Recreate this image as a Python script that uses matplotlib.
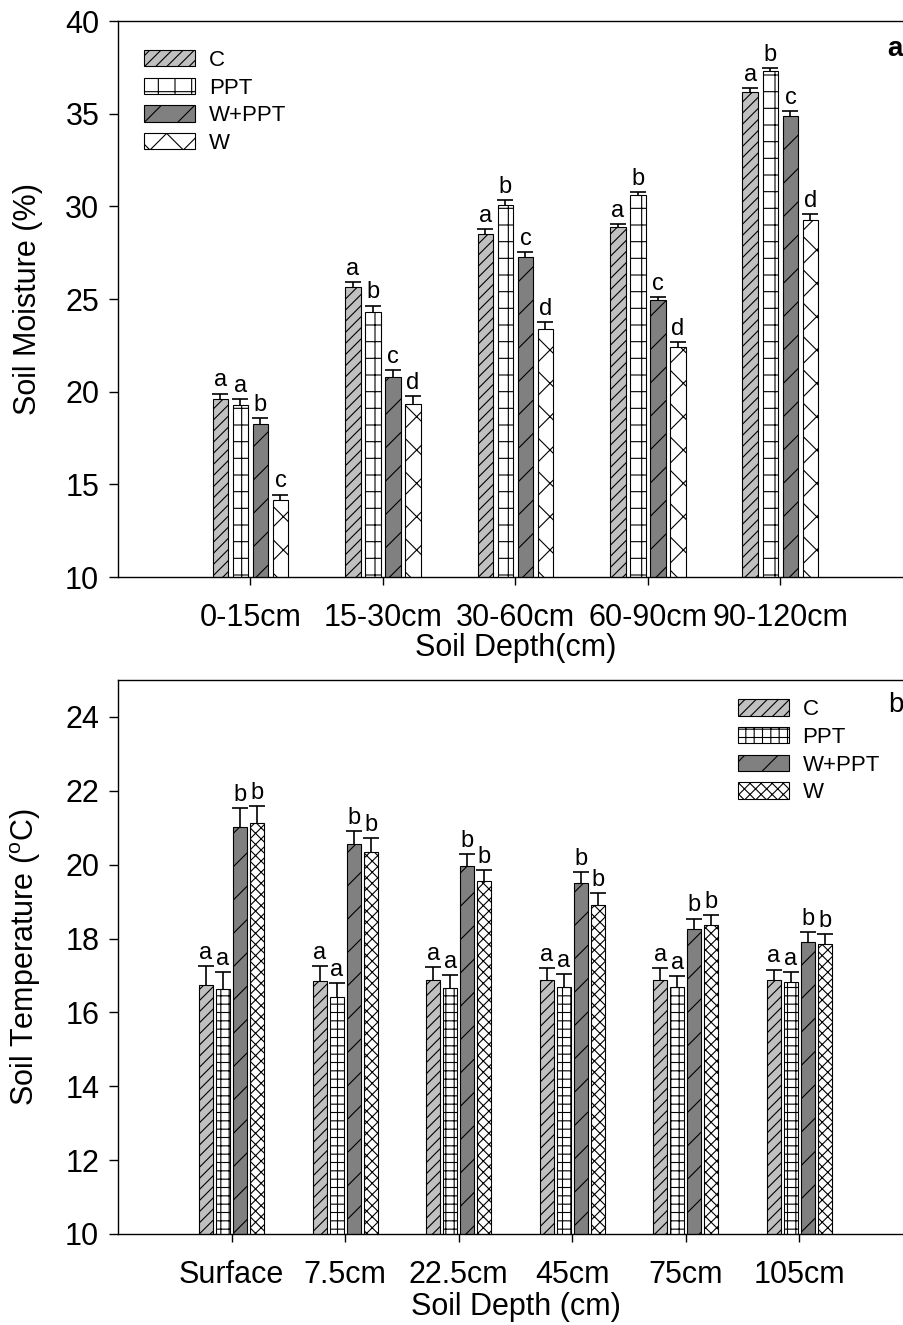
import numpy as np
import matplotlib.pyplot as plt

plt.rcParams['font.family'] = ['Liberation Sans', 'DejaVu Sans']
plt.rcParams['mathtext.fontset'] = 'custom'
plt.rcParams['mathtext.rm'] = 'Liberation Sans'
plt.rcParams['hatch.color'] = 'black'
plt.rcParams['hatch.linewidth'] = 0.8

treatments = ['C', 'PPT', 'W+PPT', 'W']
fills = ['#c0c0c0', 'white', '#808080', 'white']

# soil moisture (%) by depth
moist_depths = ['0-15cm', '15-30cm', '30-60cm', '60-90cm', '90-120cm']
moist_C = [19.6, 25.65, 28.5, 28.9, 36.15]
moist_PPT = [19.3, 24.3, 30.05, 30.6, 37.3]
moist_WPPT = [18.25, 20.8, 27.25, 24.95, 34.9]
moist_W = [14.15, 19.35, 23.4, 22.4, 29.25]
moist_C_se = [0.3, 0.27, 0.3, 0.16, 0.25]
moist_PPT_se = [0.3, 0.35, 0.3, 0.18, 0.16]
moist_WPPT_se = [0.35, 0.38, 0.3, 0.18, 0.26]
moist_W_se = [0.3, 0.42, 0.35, 0.3, 0.36]
moist_letters = [['a', 'a', 'a', 'a', 'a'],
                 ['a', 'b', 'b', 'b', 'b'],
                 ['b', 'c', 'c', 'c', 'c'],
                 ['c', 'd', 'd', 'd', 'd']]

# soil temperature (oC) by depth
temp_depths = ['Surface', '7.5cm', '22.5cm', '45cm', '75cm', '105cm']
temp_C = [16.75, 16.86, 16.87, 16.87, 16.89, 16.89]
temp_PPT = [16.62, 16.42, 16.65, 16.7, 16.68, 16.82]
temp_WPPT = [21.02, 20.55, 19.95, 19.49, 18.25, 17.91]
temp_W = [21.14, 20.35, 19.55, 18.92, 18.36, 17.86]
temp_C_se = [0.5, 0.39, 0.36, 0.33, 0.3, 0.27]
temp_PPT_se = [0.47, 0.38, 0.37, 0.33, 0.3, 0.28]
temp_WPPT_se = [0.51, 0.36, 0.34, 0.31, 0.29, 0.27]
temp_W_se = [0.45, 0.37, 0.3, 0.3, 0.27, 0.25]
temp_letters = [['a'] * 6, ['a'] * 6, ['b'] * 6, ['b'] * 6]


def draw_panel(ax, depths, means, errs, letters, hatches, width, step, capsize):
    x = np.arange(1, len(depths) + 1)
    for i, name in enumerate(treatments):
        xi = x + (i - 1.5) * step
        ax.bar(xi, means[i], width, color=fills[i], edgecolor='black',
               linewidth=0.8, hatch=hatches[i], label=name, zorder=2)
        eb = ax.errorbar(xi, means[i], yerr=[np.zeros(len(xi)), errs[i]],
                         fmt='none', ecolor='black', elinewidth=1.2,
                         capsize=capsize, capthick=1.2, zorder=3)
        eb[1][0].set_visible(False)  # only the upper whisker
        for xx, m, e, t in zip(xi, means[i], errs[i], letters[i]):
            ax.annotate(t, (xx, m + e), xytext=(0, 1.5), textcoords='offset points',
                        ha='center', va='bottom', fontsize=17)
    ax.set_xticks(x)
    ax.set_xticklabels(depths)
    ax.set_xlim(0, len(depths) + 1)
    ax.spines['right'].set_visible(False)
    for s in ['left', 'bottom', 'top']:
        ax.spines[s].set_linewidth(1.0)
    ax.tick_params(axis='y', direction='out', length=6.5, width=1.0, pad=7, labelsize=22)
    ax.tick_params(axis='x', direction='out', length=6, width=1.0, pad=12.5, labelsize=22)


fig = plt.figure(figsize=(9.04, 13.25), dpi=100)
ax1 = fig.add_axes([0.1305, 0.5645, 0.8794, 0.4196])
ax2 = fig.add_axes([0.1305, 0.0687, 0.8794, 0.4181])

draw_panel(ax1, moist_depths,
           [moist_C, moist_PPT, moist_WPPT, moist_W],
           [moist_C_se, moist_PPT_se, moist_WPPT_se, moist_W_se],
           moist_letters, ['///', '+', '/', 'x'], 0.12, 0.151, 6)
ax1.set_ylim(10, 40)
ax1.set_yticks(np.arange(10, 41, 5))
ax1.set_ylabel('Soil Moisture (%)', fontsize=22, labelpad=16)
ax1.set_xlabel('Soil Depth(cm)', fontsize=22, labelpad=0)
ax1.legend(loc='upper left', bbox_to_anchor=(0.033, 0.948), frameon=False,
           borderaxespad=0, borderpad=0, fontsize=16, handlelength=2.3,
           handleheight=0.75, handletextpad=0.6, labelspacing=0.3)
ax1.text(0.977, 0.95, 'a', transform=ax1.transAxes, fontsize=20,
         fontweight='bold', ha='center', va='center')

draw_panel(ax2, temp_depths,
           [temp_C, temp_PPT, temp_WPPT, temp_W],
           [temp_C_se, temp_PPT_se, temp_WPPT_se, temp_W_se],
           temp_letters, ['///', '++', '/', 'xxx'], 0.123, 0.15, 5.5)
ax2.set_ylim(10, 25)
ax2.set_yticks(np.arange(10, 25, 2))
ax2.set_ylabel(r'Soil Temperature ($\mathregular{^{o}}$C)', fontsize=22, labelpad=16)
ax2.set_xlabel('Soil Depth (cm)', fontsize=22, labelpad=1.5)
ax2.legend(loc='upper left', bbox_to_anchor=(0.78, 0.965), frameon=False,
           borderaxespad=0, borderpad=0, fontsize=16, handlelength=2.3,
           handleheight=0.75, handletextpad=0.6, labelspacing=0.3)
ax2.text(0.978, 0.955, 'b', transform=ax2.transAxes, fontsize=20,
         ha='center', va='center')

fig.savefig('out.png', dpi=100)
